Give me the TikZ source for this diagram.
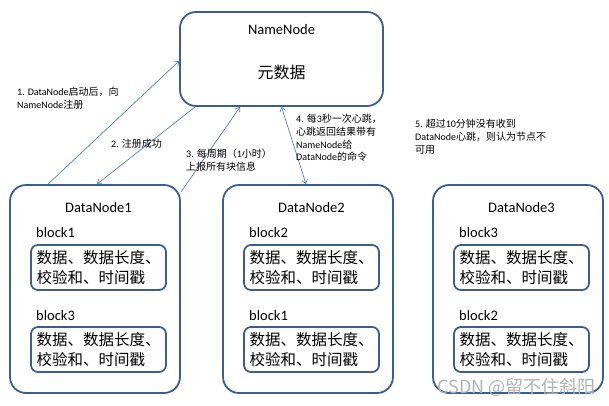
\documentclass[tikz,border=0pt]{standalone}
\usepackage{fontspec}
\setmainfont{Carlito}
\newfontfamily\cjk{Noto Sans CJK SC}
\usetikzlibrary{arrows.meta}
\definecolor{boxblue}{HTML}{3B5E8C}
\definecolor{arrowblue}{HTML}{4F81BD}
\tikzset{
  bigbox/.style={draw=boxblue, line width=1.8pt, rounded corners=16pt, minimum width=170pt, minimum height=208pt, inner sep=0pt},
  namebox/.style={draw=boxblue, line width=1.8pt, rounded corners=16pt, minimum width=203pt, minimum height=94pt, inner sep=0pt},
  blockbox/.style={draw=boxblue, line width=1.8pt, rounded corners=7pt, minimum width=135pt, minimum height=45pt, inner sep=0pt, align=left, font=\cjk\fontsize{15.5}{20}\selectfont},
  title/.style={font=\fontsize{14.5}{16}\selectfont, inner sep=0pt},
  blabel/.style={font=\fontsize{14.5}{16}\selectfont, inner sep=0pt, anchor=west},
  note/.style={font=\fontsize{10}{12.7}\selectfont, inner sep=0pt, anchor=north west, align=left},
  conn/.style={draw=arrowblue, line width=0.7pt, -{Straight Barb[length=4pt,width=6pt]}},
  conn2/.style={draw=arrowblue, line width=0.7pt, {Straight Barb[length=4pt,width=6pt]}-{Straight Barb[length=4pt,width=6pt]}},
}
\begin{document}
\begin{tikzpicture}[x=1pt,y=-1pt]
\useasboundingbox (0,0) rectangle (609,405);

% NameNode
\node[namebox] (NN) at (281.5,59) {};
\node[title] (NNt) at (281.5,30) {NameNode};
\node[inner sep=0pt, font=\cjk\fontsize{16}{18}\selectfont] (NNm) at (281.5,72) {元数据};

% DataNodes
\foreach \i/\cx/\ba/\bb in {1/95/1/3, 2/308/2/1, 3/518/3/2}{
  \node[bigbox] (DN\i) at (\cx,289) {};
  \node[title] (DN\i t) at (\cx+3.5,208) {DataNode\i};
  \node[blabel] (DN\i la) at (\cx-59,233) {block\ba};
  \node[blockbox] (DN\i a) at (\cx+3.5,267.5) {数据、数据长度、\\校验和、时间戳};
  \node[blabel] (DN\i lb) at (\cx-59,316) {block\bb};
  \node[blockbox] (DN\i b) at (\cx+3.5,349.5) {数据、数据长度、\\校验和、时间戳};
}

% connectors
\draw[conn] ([xshift=-47pt]DN1.north) -- ([yshift=-2pt]NN.west);
\draw[conn] ([xshift=16pt]NN.south west) -- ([xshift=2pt]DN1.north);
\draw[conn] ([yshift=-8pt]DN1.north east) -- ([xshift=-41.5pt]NN.south);
\draw[conn2] (NN.south) -- ([xshift=-2pt]DN2.north);

% notes
\node[note] (n1) at (17,87) {1. DataNode{\cjk 启动后，向}\\NameNode{\cjk 注册}};
\node[note] (n2) at (111,139) {2. {\cjk 注册成功}};
\node[note] (n3) at (186,149) {3. {\cjk 每周期（}1{\cjk 小时）}\\{\cjk 上报所有块信息}};
\node[note] (n4) at (296,114) {4. {\cjk 每}3{\cjk 秒一次心跳，}\\{\cjk 心跳返回结果带有}\\NameNode{\cjk 给}\\DataNode{\cjk 的命令}};
\node[note] (n5) at (415,119) {5. {\cjk 超过}10{\cjk 分钟没有收到}\\DataNode{\cjk 心跳，则认为节点不}\\{\cjk 可用}};

% watermark
\node[inner sep=0pt, anchor=east, text=gray!60, font=\cjk\fontsize{18}{20}\selectfont] (wm) at (596,387) {CSDN @留不住斜阳};
\end{tikzpicture}
\end{document}
